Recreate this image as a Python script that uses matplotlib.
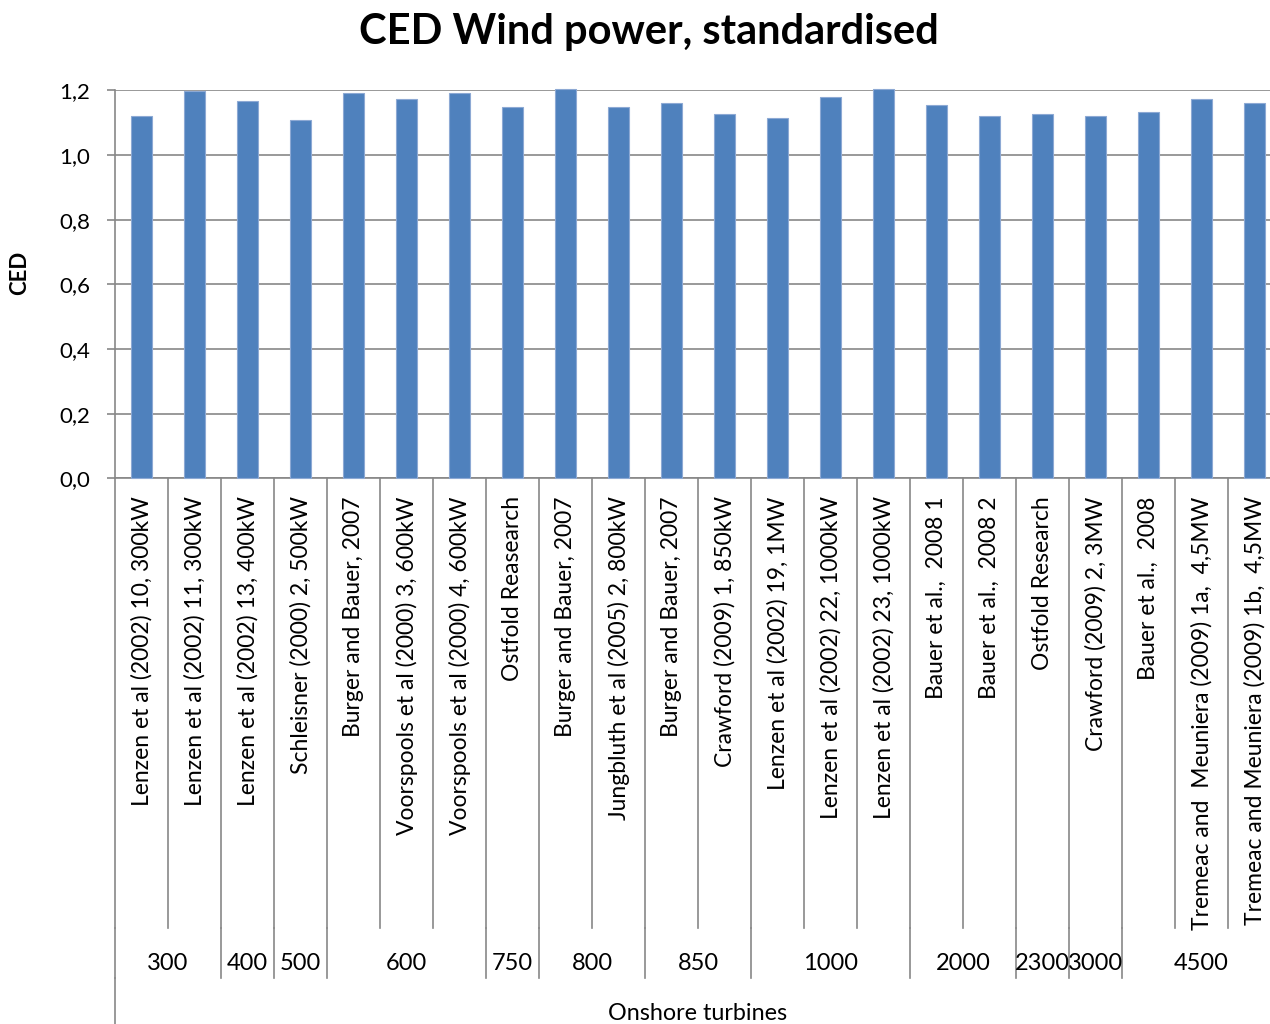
import matplotlib
matplotlib.use("Agg")
import matplotlib.pyplot as plt
from matplotlib.ticker import FuncFormatter, FixedLocator
from matplotlib.transforms import blended_transform_factory
import numpy as np

plt.rcParams['font.family'] = ['Lato', 'DejaVu Sans']

title = "CED Wind power, standardised"
categories = [
    "Lenzen et al (2002) 10, 300kW",
    "Lenzen et al (2002) 11, 300kW",
    "Lenzen et al (2002) 13, 400kW",
    "Schleisner (2000) 2, 500kW",
    "Burger and Bauer, 2007",
    "Voorspools et al (2000) 3, 600kW",
    "Voorspools et al (2000) 4, 600kW",
    "Ostfold Reasearch",
    "Burger and Bauer, 2007",
    "Jungbluth et al (2005) 2, 800kW",
    "Burger and Bauer, 2007",
    "Crawford (2009) 1, 850kW",
    "Lenzen et al (2002) 19, 1MW",
    "Lenzen et al (2002) 22, 1000kW",
    "Lenzen et al (2002) 23, 1000kW",
    "Bauer et al.,  2008 1",
    "Bauer et al.,  2008 2",
    "Ostfold Research",
    "Crawford (2009) 2, 3MW",
    "Bauer et al.,  2008",
    "Tremeac and  Meuniera (2009) 1a,  4,5MW",
    "Tremeac and Meuniera (2009) 1b,  4,5MW",
]
values = [1.120, 1.197, 1.167, 1.108, 1.191, 1.173, 1.191, 1.149, 1.203, 1.149, 1.161,
          1.127, 1.114, 1.179, 1.204, 1.156, 1.121, 1.127, 1.121, 1.133, 1.173, 1.161]
group_names = ["300", "400", "500", "600", "750", "800", "850", "1000", "2000", "2300", "3000", "4500"]
group_sizes = [2, 1, 1, 3, 1, 2, 2, 3, 2, 1, 1, 3]
axis_title = "Onshore turbines"
y_label = "CED"
y_ticks = [0.0, 0.2, 0.4, 0.6, 0.8, 1.0, 1.2]

W, H = 1270, 1024
fig = plt.figure(figsize=(W / 100, H / 100), dpi=100)
left_px, right_px, top_px, bot_px = 115, 1281, 90.3, 478.3
ax = fig.add_axes([left_px / W, 1 - bot_px / H, (right_px - left_px) / W, (bot_px - top_px) / H])

x = np.arange(len(values))
bars = ax.bar(x, values, width=0.38, color='#4F81BD', edgecolor='#8DA9D4', linewidth=0.8,
              zorder=3)
for b in bars:
    b.set_clip_on(False)

ax.set_xlim(-0.5, len(values) - 0.5)
ax.set_ylim(0, 1.2)
ax.yaxis.set_major_locator(FixedLocator(y_ticks))
ax.yaxis.set_major_formatter(FuncFormatter(lambda v, p: f"{v:.1f}".replace('.', ',')))
grid_col = '#878787'
ax.grid(axis='y', color=grid_col, linewidth=1.2, zorder=0)
ax.set_axisbelow(True)
for s in ['top', 'right']:
    ax.spines[s].set_visible(False)
ax.spines['left'].set_color(grid_col)
ax.spines['left'].set_linewidth(1.2)
ax.spines['bottom'].set_color(grid_col)
ax.spines['bottom'].set_linewidth(1.2)
ax.tick_params(axis='y', length=6, width=1.2, color=grid_col, pad=12, labelsize=16,
               labelcolor='black')

ax.set_xticks(x)
ax.set_xticklabels(categories, rotation=90, fontsize=16.5, va='top', ha='center')
ax.tick_params(axis='x', length=0, pad=13)

# category separators
tr = blended_transform_factory(ax.transData, fig.transFigure)
y0 = 1 - bot_px / H
y1 = 1 - 928 / H
y2 = 1 - 978 / H
for i in range(len(values) + 1):
    xe = i - 0.5
    ax.plot([xe, xe], [y0, y1], transform=tr, color=grid_col, lw=1.2, clip_on=False)
edges = np.concatenate([[0], np.cumsum(group_sizes)])
for e in edges:
    xe = e - 0.5
    ax.plot([xe, xe], [y1, y2], transform=tr, color=grid_col, lw=1.2, clip_on=False)
ax.plot([-0.5, -0.5], [y2, 0], transform=tr, color=grid_col, lw=1.2, clip_on=False)
for name, a, b in zip(group_names, edges[:-1], edges[1:]):
    xc = (a + b - 1) / 2
    ax.text(xc, 1 - 964 / H, name, transform=tr, ha='center', va='center', fontsize=17)

fig.text((left_px + right_px) / 2 / W, 1 - 1013 / H, axis_title, ha='center', va='center',
         fontsize=16.8)
fig.text(20 / W, 1 - 273 / H, y_label, rotation=90, ha='center', va='center',
         fontsize=16, fontweight='bold')
fig.text(649 / W, 1 - 32 / H, title, ha='center', va='center', fontsize=30,
         fontweight='bold')

fig.savefig("out.png", dpi=100)
